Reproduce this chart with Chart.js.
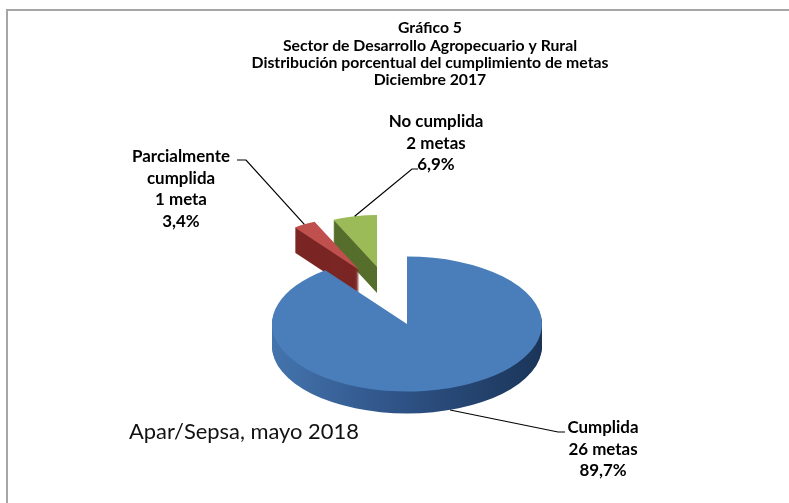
<!DOCTYPE html>
<html><head><meta charset="utf-8">
<script src="https://cdn.jsdelivr.net/npm/chart.js@4.4.1/dist/chart.umd.min.js"></script>
<style>html,body{margin:0;padding:0;background:#fff;overflow:hidden}</style>
</head><body>
<canvas id="c" width="789" height="503" style="width:789px;height:503px;display:block"></canvas>
<script>
// ---- data ----
const categories = ['Parcialmente cumplida', 'No cumplida', 'Cumplida'];
const metas = [1, 2, 26];
const metaLabels = ['1 meta', '2 metas', '26 metas'];
const percentLabels = ['3,4%', '6,9%', '89,7%'];
const labelLines = [['Parcialmente', 'cumplida'], ['No cumplida'], ['Cumplida']];
const titleLines = ['Gráfico 5', 'Sector de Desarrollo Agropecuario y Rural', 'Distribución porcentual del cumplimiento de metas', 'Diciembre 2017'];
const sourceNote = 'Apar/Sepsa, mayo 2018';

// ---- style ----
const TILT = 0.5;
const DEPTHS = [25, 26, 22];            // extrusion depth per slice (screen px)
const EXPLODE = [118, 118, 0];          // explosion distance
const EXPLODE_BIAS = [7.2, -2.3, 0];    // perspective bias of the explosion direction (deg)
const SHRINK = [0.79, 0.77, 1];         // perspective shrink of far slices
const topColors = ['#c0504d', '#9bbb59', '#4a7ebb'];
const FONT = 'Lato, "Open Sans", sans-serif';

const total = metas.reduce((s, v) => s + v, 0);
const startRotation = -360 * (metas[0] + metas[1]) / total;

function centerOf(chart) {
  const a = chart.chartArea;
  return { cx: (a.left + a.right) / 2, cy: (a.top + a.bottom) / 2 };
}
function tilt(ctx, cy) { ctx.translate(0, cy); ctx.scale(1, TILT); ctx.translate(0, -cy); }

const pie3d = {
  id: 'pie3d',
  beforeDatasetsDraw(chart) {
    const ctx = chart.ctx;
    const meta = chart.getDatasetMeta(0);
    const R = meta.controller.outerRadius;
    const { cx, cy } = centerOf(chart);
    meta.data.forEach((a, i) => {
      const mid = (a.startAngle + a.endAngle) / 2 + EXPLODE_BIAS[i] * Math.PI / 180;
      a.x = cx + Math.cos(mid) * EXPLODE[i];
      a.y = cy + Math.sin(mid) * EXPLODE[i];
      a.outerRadius = R * SHRINK[i];
    });
    const sideFills = [
      '#7a2624',
      '#566e2b',
      (() => { const g = ctx.createLinearGradient(cx - R, 0, cx + R, 0);
        g.addColorStop(0, '#4474ad'); g.addColorStop(0.45, '#2f5488'); g.addColorStop(1, '#1b3559'); return g; })()
    ];
    const maxD = Math.max(...DEPTHS);
    for (let d = maxD; d >= 1; d--) {
      meta.data.forEach((a, i) => {
        if (d > DEPTHS[i]) return;
        ctx.save();
        ctx.translate(0, d);
        tilt(ctx, cy);
        ctx.beginPath();
        ctx.moveTo(a.x, a.y);
        ctx.arc(a.x, a.y, a.outerRadius, a.startAngle, a.endAngle);
        ctx.closePath();
        ctx.fillStyle = sideFills[i];
        ctx.fill();
        ctx.restore();
      });
    }
    ctx.save();
    tilt(ctx, cy);
  },
  afterDatasetsDraw(chart) {
    chart.ctx.restore();
  },
  afterDraw(chart) {
    const ctx = chart.ctx;
    const meta = chart.getDatasetMeta(0);
    const { cy } = centerOf(chart);
    // frame
    ctx.save();
    ctx.strokeStyle = '#a6a6a6'; ctx.lineWidth = 2;
    ctx.beginPath(); ctx.moveTo(7, 503); ctx.lineTo(7, 10); ctx.lineTo(789, 10); ctx.stroke();
    // fit helper
    const fit = (t, w, wt) => { ctx.font = wt + ' 100px ' + FONT; return 100 * w / ctx.measureText(t).width; };
    // title
    const ts = fit(titleLines[2], 357, 'bold');
    ctx.fillStyle = '#000'; ctx.textAlign = 'center'; ctx.textBaseline = 'middle';
    ctx.font = 'bold ' + ts.toFixed(2) + 'px ' + FONT;
    const ty = [28, 45.5, 62.5, 80];
    titleLines.forEach((t, k) => ctx.fillText(t, 430, ty[k]));
    // labels
    const ls = fit('Parcialmente', 98, 'bold');
    ctx.font = 'bold ' + ls.toFixed(2) + 'px ' + FONT;
    const textPos = [{ x: 181, y: 157 }, { x: 436, y: 122 }, { x: 603, y: 428 }];
    const elbows = [[[246, 160], [237, 160]], [[412, 169], [418, 169]], [[558, 432], [565, 432]]];
    meta.data.forEach((a, i) => {
      const lines = labelLines[i].concat([metaLabels[i], percentLabels[i]]);
      lines.forEach((t, k) => ctx.fillText(t, textPos[i].x, textPos[i].y + k * 21.5));
      const mid = (a.startAngle + a.endAngle) / 2;
      const ax = a.x + Math.cos(mid) * a.outerRadius;
      let ay = cy + (a.y + Math.sin(mid) * a.outerRadius - cy) * TILT;
      if (Math.sin(mid) > 0) ay += DEPTHS[i];
      ctx.strokeStyle = '#000'; ctx.lineWidth = 1.2;
      ctx.beginPath(); ctx.moveTo(ax, ay);
      ctx.lineTo(elbows[i][0][0], elbows[i][0][1]);
      ctx.lineTo(elbows[i][1][0], elbows[i][1][1]);
      ctx.stroke();
    });
    // source note
    const ss = fit(sourceNote, 230, 'normal');
    ctx.font = 'normal ' + ss.toFixed(2) + 'px ' + FONT;
    ctx.textAlign = 'left'; ctx.fillStyle = '#111';
    ctx.fillText(sourceNote, 129, 432);
    ctx.restore();
  }
};

new Chart(document.getElementById('c'), {
  type: 'pie',
  data: {
    labels: categories,
    datasets: [{ data: metas, backgroundColor: topColors, borderWidth: 0, clip: false }]
  },
  options: {
    responsive: false,
    animation: false,
    devicePixelRatio: 1,
    rotation: startRotation,
    radius: 135,
    layout: { padding: { left: 25, top: 145, right: 0, bottom: 0 } },
    plugins: { legend: { display: false }, tooltip: { enabled: false }, title: { display: false } },
    events: []
  },
  plugins: [pie3d]
});
</script>
</body></html>
